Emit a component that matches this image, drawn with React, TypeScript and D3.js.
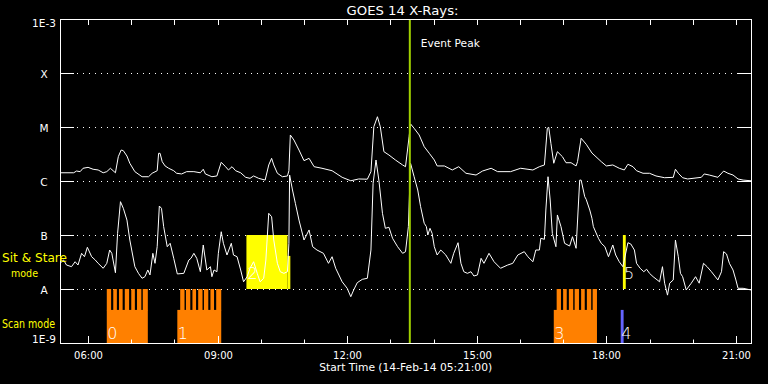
import React from 'react';
import * as d3 from 'd3';

const W = 768;
const H = 384;
const PLOT = { left: 60, right: 751, top: 19, bottom: 343 };

const title = 'GOES 14 X-Rays:';
const xTitle = 'Start Time (14-Feb-14 05:21:00)';
const startTime = '05:21';
const endTime = '21:21';
const eventPeakTime = '13:27';
const eventPeakLabel = 'Event Peak';

const yLevels = [1e-9, 1e-8, 1e-7, 1e-6, 1e-5, 1e-4, 1e-3];
const yLabels = ['1E-9', 'A', 'B', 'C', 'M', 'X', '1E-3'];
const gridLevels = [1e-8, 1e-7, 1e-6, 1e-5, 1e-4];
const hourTicks = ['06:00', '07:00', '08:00', '09:00', '10:00', '11:00', '12:00', '13:00', '14:00', '15:00', '16:00', '17:00', '18:00', '19:00', '20:00', '21:00'];
const hourLabels = ['06:00', '09:00', '12:00', '15:00', '18:00', '21:00'];

// GOES long channel (1-8 A)
const longChannel: [string, number][] = [
  ['05:21', 1.42e-6], ['05:40', 1.42e-6], ['05:44', 1.53e-6], ['05:49', 1.49e-6], ['05:53', 1.72e-6], ['06:00', 1.79e-6],
  ['06:07', 1.65e-6], ['06:14', 1.6e-6], ['06:21', 1.42e-6], ['06:26', 1.49e-6], ['06:31', 1.72e-6], ['06:38', 1.42e-6],
  ['06:42', 2.82e-6], ['06:46', 3.75e-6], ['06:49', 3.64e-6], ['06:54', 2.9e-6], ['06:58', 2.13e-6], ['07:05', 1.49e-6],
  ['07:15', 1.2e-6], ['07:24', 1.2e-6], ['07:29', 1.39e-6], ['07:36', 1.55e-6], ['07:38', 3.26e-6], ['07:40', 3.26e-6],
  ['07:43', 2.28e-6], ['07:47', 1.9e-6], ['07:52', 1.72e-6], ['07:59', 1.55e-6], ['08:03', 1.39e-6], ['08:10', 1.35e-6],
  ['08:17', 1.49e-6], ['08:27', 1.49e-6], ['08:36', 1.42e-6], ['08:40', 1.65e-6], ['08:43', 1.35e-6], ['08:52', 1.2e-6],
  ['08:59', 1.24e-6], ['09:05', 2.22e-6], ['09:11', 1.84e-6], ['09:15', 1.6e-6], ['09:20', 1.84e-6], ['09:25', 1.55e-6],
  ['09:32', 1.42e-6], ['09:39', 1.17e-6], ['09:45', 1.12e-6], ['09:50', 1.24e-6], ['09:57', 1.12e-6], ['10:06', 1.04e-6],
  ['10:11', 1.98e-6], ['10:15', 2.63e-6], ['10:18', 1.98e-6], ['10:23', 1.39e-6], ['10:30', 1.2e-6], ['10:37', 1.24e-6],
  ['10:39', 1.55e-6], ['10:41', 7.11e-6], ['10:46', 5.74e-6], ['10:53', 3.75e-6], ['11:00', 2.38e-6], ['11:07', 2.63e-6],
  ['11:14', 1.84e-6], ['11:25', 1.72e-6], ['11:39', 1.55e-6], ['11:53', 1.17e-6], ['12:05', 1.01e-6], ['12:16', 1.09e-6],
  ['12:28', 1.08e-6], ['12:33', 1.49e-6], ['12:37', 1.01e-5], ['12:42', 1.55e-5], ['12:46', 1.01e-5], ['12:51', 3.49e-6],
  ['12:58', 3.03e-6], ['13:07', 2.45e-6], ['13:17', 1.98e-6], ['13:21', 1.84e-6], ['13:26', 6.61e-6], ['13:28', 1.14e-5],
  ['13:33', 9.46e-6], ['13:40', 7.11e-6], ['13:47', 4.32e-6], ['13:54', 3.26e-6], ['14:01', 2.45e-6], ['14:05', 1.9e-6],
  ['14:15', 1.9e-6], ['14:26', 1.6e-6], ['14:35', 1.84e-6], ['14:45', 1.39e-6], ['14:59', 1.29e-6], ['15:08', 1.53e-6],
  ['15:20', 1.72e-6], ['15:29', 1.49e-6], ['15:47', 1.49e-6], ['16:01', 1.72e-6], ['16:18', 1.6e-6], ['16:27', 1.84e-6],
  ['16:34', 1.98e-6], ['16:38', 9.46e-6], ['16:40', 9.87e-6], ['16:43', 4.99e-6], ['16:47', 2.13e-6], ['16:52', 3.49e-6],
  ['16:59', 2.82e-6], ['17:04', 2.18e-6], ['17:11', 2.18e-6], ['17:18', 1.9e-6], ['17:20', 2.28e-6], ['17:25', 6.18e-6],
  ['17:32', 4.8e-6], ['17:40', 3.3e-6], ['17:53', 2.28e-6], ['18:00', 1.9e-6], ['18:09', 1.98e-6], ['18:18', 1.72e-6],
  ['18:25', 1.6e-6], ['18:30', 2.04e-6], ['18:37', 1.84e-6], ['18:42', 1.55e-6], ['18:51', 1.39e-6], ['19:00', 1.39e-6],
  ['19:09', 1.24e-6], ['19:21', 1.15e-6], ['19:33', 1.17e-6], ['19:36', 1.65e-6], ['19:40', 1.39e-6], ['19:46', 1.15e-6],
  ['19:53', 1.09e-6], ['20:12', 1.17e-6], ['20:16', 1.35e-6], ['20:23', 1.29e-6], ['20:35', 1.17e-6], ['20:43', 1.53e-6],
  ['20:49', 1.39e-6], ['20:56', 1.29e-6], ['21:03', 1.09e-6], ['21:10', 1.04e-6], ['21:21', 1.01e-6],
];

// GOES short channel (0.5-4 A)
const shortChannel: [string, number][] = [
  ['05:21', 2.99e-8], ['05:26', 3.44e-8], ['05:30', 2.78e-8], ['05:37', 2.59e-8], ['05:42', 3.2e-8], ['05:46', 2.78e-8],
  ['05:51', 4.58e-8], ['05:55', 3.96e-8], ['05:59', 5.92e-8], ['06:05', 3.96e-8], ['06:10', 3.44e-8], ['06:14', 2.99e-8],
  ['06:21', 2.42e-8], ['06:26', 2.99e-8], ['06:30', 5.27e-8], ['06:33', 4.58e-8], ['06:38', 2.0e-8], ['06:41', 1.07e-7],
  ['06:45', 4.14e-7], ['06:49', 3.12e-7], ['06:54', 1.89e-7], ['06:58', 8.07e-8], ['07:05', 2.59e-8], ['07:10', 1.95e-8],
  ['07:15', 1.58e-8], ['07:19', 1.69e-8], ['07:23', 2.25e-8], ['07:26', 1.82e-8], ['07:30', 4.58e-8], ['07:33', 2.99e-8],
  ['07:36', 6.07e-8], ['07:39', 3.44e-7], ['07:42', 3.12e-7], ['07:45', 1.43e-7], ['07:50', 6.07e-8], ['07:54', 7.02e-8],
  ['07:59', 3.7e-8], ['08:04', 1.9e-8], ['08:13', 1.95e-8], ['08:20', 3.44e-8], ['08:23', 3.7e-8], ['08:27', 4.58e-8],
  ['08:31', 3.7e-8], ['08:36', 2.09e-8], ['08:40', 6.53e-8], ['08:45', 2.25e-8], ['08:50', 2.59e-8], ['08:52', 1.69e-8],
  ['08:55', 2.25e-8], ['08:59', 2.09e-8], ['09:01', 4.58e-8], ['09:05', 1.15e-7], ['09:08', 7.02e-8], ['09:13', 4.26e-8],
  ['09:19', 7.02e-8], ['09:22', 4.26e-8], ['09:27', 3.96e-8], ['09:32', 2.25e-8], ['09:36', 1.36e-8], ['09:41', 1.69e-8],
  ['09:45', 2.42e-8], ['09:50', 3.2e-8], ['09:55', 1.95e-8], ['09:59', 1.36e-8], ['10:04', 1.58e-8], ['10:07', 3.44e-8],
  ['10:11', 2.52e-7], ['10:15', 2.18e-7], ['10:18', 8.07e-8], ['10:23', 2.99e-8], ['10:27', 2.09e-8], ['10:32', 1.95e-8],
  ['10:37', 2.09e-8], ['10:39', 7.02e-8], ['10:40', 1.29e-6], ['10:44', 6.81e-7], ['10:48', 3.86e-7], ['10:53', 1.89e-7],
  ['11:00', 8.07e-8], ['11:07', 1.24e-7], ['11:12', 6.07e-8], ['11:18', 5.27e-8], ['11:27', 4.58e-8], ['11:34', 2.99e-8],
  ['11:39', 3.96e-8], ['11:44', 2.42e-8], ['11:53', 1.36e-8], ['12:00', 1.03e-8], ['12:05', 7.2e-9], ['12:09', 9.6e-9],
  ['12:14', 1.31e-8], ['12:21', 1.51e-8], ['12:28', 1.58e-8], ['12:33', 5.27e-8], ['12:36', 9.06e-7], ['12:40', 2.45e-6],
  ['12:44', 1.04e-6], ['12:49', 2.52e-7], ['12:53', 1.33e-7], ['12:58', 1.39e-7], ['13:03', 8.69e-8], ['13:10', 6.07e-8],
  ['13:17', 4.58e-8], ['13:21', 4.9e-8], ['13:25', 1.43e-7], ['13:28', 2.13e-6], ['13:33', 1.2e-6], ['13:38', 6.81e-7],
  ['13:42', 3.34e-7], ['13:47', 1.65e-7], ['13:50', 1.43e-7], ['13:52', 1.0e-7], ['13:55', 1.33e-7], ['13:58', 1.07e-7],
  ['14:01', 6.07e-8], ['14:05', 4.26e-8], ['14:10', 5.27e-8], ['14:17', 4.26e-8], ['14:24', 2.99e-8], ['14:28', 4.58e-8],
  ['14:34', 7.2e-8], ['14:38', 2.99e-8], ['14:42', 2.09e-8], ['14:47', 1.95e-8], ['14:52', 2.09e-8], ['14:56', 1.74e-8],
  ['15:01', 1.82e-8], ['15:06', 3.7e-8], ['15:10', 2.99e-8], ['15:17', 4.58e-8], ['15:24', 3.2e-8], ['15:33', 2.42e-8],
  ['15:43', 2.78e-8], ['15:50', 2.99e-8], ['15:57', 4.26e-8], ['16:06', 4.91e-8], ['16:11', 3.96e-8], ['16:18', 3.2e-8],
  ['16:22', 5.27e-8], ['16:27', 5.27e-8], ['16:29', 8.69e-8], ['16:34', 8.32e-8], ['16:36', 2.9e-7], ['16:39', 1.2e-6],
  ['16:42', 4.45e-7], ['16:45', 1.07e-7], ['16:50', 6.07e-8], ['16:52', 2.35e-7], ['16:57', 1.43e-7], ['17:02', 7.02e-8],
  ['17:09', 6.25e-8], ['17:13', 9.3e-8], ['17:18', 5.67e-8], ['17:23', 1.04e-6], ['17:25', 1.04e-6], ['17:30', 5.12e-7],
  ['17:32', 4.58e-7], ['17:37', 2.9e-7], ['17:40', 2.04e-7], ['17:42', 1.43e-7], ['17:49', 8.69e-8], ['17:53', 7.02e-8],
  ['17:58', 6.07e-8], ['18:03', 3.96e-8], ['18:09', 6.53e-8], ['18:13', 4.26e-8], ['18:18', 3.2e-8], ['18:23', 2.59e-8],
  ['18:30', 7.2e-8], ['18:34', 6.81e-8], ['18:39', 5.27e-8], ['18:42', 2.99e-8], ['18:47', 2.42e-8], ['18:52', 2.09e-8],
  ['18:56', 2.32e-8], ['19:00', 1.95e-8], ['19:05', 1.69e-8], ['19:14', 1.36e-8], ['19:18', 2.59e-8], ['19:21', 1.28e-8],
  ['19:25', 7.7e-9], ['19:28', 1.28e-8], ['19:33', 1.47e-8], ['19:36', 8.07e-8], ['19:40', 3.96e-8], ['19:43', 1.95e-8],
  ['19:46', 1.69e-8], ['19:51', 9.6e-9], ['19:58', 1.28e-8], ['20:04', 1.69e-8], ['20:09', 1.28e-8], ['20:15', 2.99e-8],
  ['20:20', 2.59e-8], ['20:26', 2.09e-8], ['20:35', 1.47e-8], ['20:40', 2.09e-8], ['20:43', 4.91e-8], ['20:47', 4.45e-8],
  ['20:51', 2.99e-8], ['20:56', 2.25e-8], ['21:00', 1.47e-8], ['21:03', 1.03e-8], ['21:10', 1.03e-8], ['21:21', 9.6e-9],
];

// Scan mode blocks
const scanLabels = ['0', '1', '3', '4'];
const scanStarts = ['06:26', '08:04', '16:47', '18:20'];
const scanEnds = ['07:23', '09:05', '17:47', '18:24'];
const scanKinds = ['scan', 'scan', 'scan', 'other'];
const scanBaseTop = 4.1e-9;
const scanStepTop = 1e-8;
const scanSteps: [string, string][] = [
  ['06:26', '06:32'], ['06:35', '06:40'], ['06:43', '06:48'], ['06:51', '06:57'], ['07:00', '07:05'], ['07:08', '07:14'], ['07:16', '07:23'],
  ['08:08', '08:14'], ['08:16', '08:22'], ['08:25', '08:30'], ['08:33', '08:39'], ['08:41', '08:47'], ['08:50', '08:55'], ['08:58', '09:05'],
  ['16:51', '16:57'], ['17:00', '17:05'], ['17:08', '17:14'], ['17:16', '17:22'], ['17:25', '17:30'], ['17:33', '17:39'], ['17:41', '17:47'],
];

// Sit & Stare blocks
const sitLabels = ['2', '', '5'];
const sitStarts = ['09:40', '10:37', '18:23'];
const sitEnds = ['10:37', '10:41', '18:27'];
const sitTops = [1e-7, 4.1e-8, 1e-7];
const sitBottom = 1e-8;

const toMin = (s: string) => {
  const [h, m] = s.split(':').map(Number);
  return h * 60 + m;
};

const FONT = 'DejaVu Sans, Verdana, sans-serif';

export default function App() {
  const x = d3.scaleLinear().domain([toMin(startTime), toMin(endTime)]).range([PLOT.left, PLOT.right]);
  const y = d3.scaleLog().domain([1e-9, 1e-3]).range([PLOT.bottom, PLOT.top]);

  const line = d3
    .line<[string, number]>()
    .x((d) => x(toMin(d[0])))
    .y((d) => y(d[1]));

  const peakX = x(toMin(eventPeakTime));

  return (
    <svg
      width={W}
      height={H}
      style={{ position: 'absolute', left: 0, top: 0, background: '#000' }}
      fontFamily={FONT}
    >
      <rect x={0} y={0} width={W} height={H} fill="#000" />

      {/* grid */}
      {gridLevels.map((v, i) => (
        <line
          key={'g' + i}
          x1={PLOT.left + 17}
          x2={PLOT.right - 14}
          y1={y(v) + 0.5}
          y2={y(v) + 0.5}
          stroke="#fff"
          strokeWidth={1}
          strokeDasharray="1 5"
        />
      ))}

      {/* sit & stare */}
      {sitStarts.map((s, i) => (
        <rect
          key={'ss' + i}
          x={x(toMin(s))}
          y={y(sitTops[i])}
          width={x(toMin(sitEnds[i])) - x(toMin(s))}
          height={y(sitBottom) - y(sitTops[i])}
          fill="#ffff00"
        />
      ))}

      {/* scan mode */}
      {scanStarts.map((s, i) => (
        <rect
          key={'sb' + i}
          x={x(toMin(s))}
          y={y(scanBaseTop)}
          width={x(toMin(scanEnds[i])) - x(toMin(s))}
          height={y(1e-9) - y(scanBaseTop)}
          fill={scanKinds[i] === 'scan' ? '#ff8000' : '#6464ff'}
        />
      ))}
      {scanSteps.map((st, i) => (
        <rect
          key={'st' + i}
          x={x(toMin(st[0]))}
          y={y(scanStepTop)}
          width={x(toMin(st[1])) - x(toMin(st[0]))}
          height={y(scanBaseTop) - y(scanStepTop) + 0.5}
          fill="#ff8000"
        />
      ))}

      {/* curves */}
      <path d={line(longChannel) || ''} fill="none" stroke="#fff" strokeWidth={1} />
      <path d={line(shortChannel) || ''} fill="none" stroke="#fff" strokeWidth={1} />

      {/* block labels */}
      {scanLabels.map((l, i) => (
        <text key={'sl' + i} x={x(toMin(scanStarts[i])) + 0.5} y={339} fill="#fff" fontSize={16} fontWeight={300}>
          {l}
        </text>
      ))}
      {sitLabels.map((l, i) =>
        l ? (
          <text key={'tl' + i} x={x(toMin(sitStarts[i])) + 1} y={279} fill="#fff" fontSize={16} fontWeight={300}>
            {l}
          </text>
        ) : null
      )}

      {/* event peak */}
      <line x1={peakX} x2={peakX} y1={PLOT.top} y2={PLOT.bottom} stroke="#a0d000" strokeWidth={2} />
      <text x={peakX + 11} y={47} fill="#fff" fontSize={11} textLength={59} lengthAdjust="spacingAndGlyphs">
        {eventPeakLabel}
      </text>

      {/* axes frame */}
      <rect
        x={PLOT.left + 0.5}
        y={PLOT.top + 0.5}
        width={PLOT.right - PLOT.left}
        height={PLOT.bottom - PLOT.top}
        fill="none"
        stroke="#fff"
        strokeWidth={1}
      />

      {/* y ticks */}
      {yLevels.map((v, i) => (
        <g key={'yt' + i}>
          <line x1={PLOT.left} x2={PLOT.left + 14} y1={y(v) + 0.5} y2={y(v) + 0.5} stroke="#fff" />
          <line x1={PLOT.right - 14} x2={PLOT.right} y1={y(v) + 0.5} y2={y(v) + 0.5} stroke="#fff" />
          <text
            x={44}
            y={i === 0 ? y(v) : i === yLevels.length - 1 ? y(v) + 8 : y(v) + 4.5}
            fill="#fff"
            fontSize={10.5}
            textAnchor="middle"
          >
            {yLabels[i]}
          </text>
        </g>
      ))}

      {/* x ticks */}
      {hourTicks.map((h, i) => {
        const xx = Math.round(x(toMin(h))) + 0.5;
        const major = hourLabels.includes(h);
        return (
          <g key={'xt' + i}>
            <line x1={xx} x2={xx} y1={PLOT.top} y2={PLOT.top + 6} stroke="#fff" />
            <line x1={xx} x2={xx} y1={PLOT.bottom} y2={PLOT.bottom - (major ? 7 : 3.5)} stroke="#fff" />
            {major && (
              <text x={xx} y={359} fill="#fff" fontSize={10} textAnchor="middle">
                {h}
              </text>
            )}
          </g>
        );
      })}

      {/* titles */}
      <text x={402.5} y={15} fill="#fff" fontSize={12.5} textAnchor="middle" textLength={112} lengthAdjust="spacingAndGlyphs">
        {title}
      </text>
      <text x={405.7} y={371} fill="#fff" fontSize={10.5} textAnchor="middle" textLength={173} lengthAdjust="spacingAndGlyphs">
        {xTitle}
      </text>

      {/* mode labels */}
      <text x={2} y={262} fill="#ffff00" fontSize={11.5} textLength={65} lengthAdjust="spacingAndGlyphs">
        Sit &amp; Stare
      </text>
      <text x={24.5} y={276.5} fill="#ffff00" fontSize={11} textAnchor="middle" textLength={27} lengthAdjust="spacingAndGlyphs">
        mode
      </text>
      <text x={2} y={328} fill="#ffff00" fontSize={11.5} textLength={53} lengthAdjust="spacingAndGlyphs">
        Scan mode
      </text>
    </svg>
  );
}
